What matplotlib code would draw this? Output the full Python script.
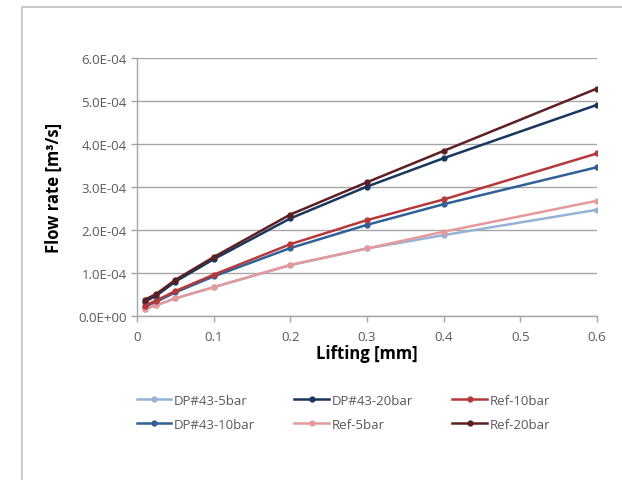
import matplotlib.pyplot as plt
from matplotlib.patches import Rectangle

lifting = [0.01, 0.025, 0.05, 0.1, 0.2, 0.3, 0.4, 0.6]

dp43_5bar = [0.16e-4, 0.25e-4, 0.41e-4, 0.67e-4, 1.18e-4, 1.57e-4, 1.88e-4, 2.47e-4]
dp43_10bar = [0.22e-4, 0.33e-4, 0.55e-4, 0.92e-4, 1.58e-4, 2.12e-4, 2.60e-4, 3.46e-4]
dp43_20bar = [0.33e-4, 0.47e-4, 0.80e-4, 1.32e-4, 2.27e-4, 3.01e-4, 3.67e-4, 4.91e-4]
ref_5bar = [0.16e-4, 0.25e-4, 0.41e-4, 0.67e-4, 1.19e-4, 1.57e-4, 1.96e-4, 2.68e-4]
ref_10bar = [0.24e-4, 0.36e-4, 0.58e-4, 0.96e-4, 1.67e-4, 2.23e-4, 2.71e-4, 3.78e-4]
ref_20bar = [0.38e-4, 0.51e-4, 0.84e-4, 1.37e-4, 2.36e-4, 3.11e-4, 3.84e-4, 5.29e-4]

series = [
    ("DP#43-5bar", dp43_5bar, "#95B3D7"),
    ("DP#43-10bar", dp43_10bar, "#2F6199"),
    ("DP#43-20bar", dp43_20bar, "#17375E"),
    ("Ref-5bar", ref_5bar, "#E6999A"),
    ("Ref-10bar", ref_10bar, "#B5393A"),
    ("Ref-20bar", ref_20bar, "#5E1F22"),
]

yticks = [0, 1e-4, 2e-4, 3e-4, 4e-4, 5e-4, 6e-4]
ytick_labels = ["0.0E+00", "1.0E-04", "2.0E-04", "3.0E-04", "4.0E-04", "5.0E-04", "6.0E-04"]
xticks = [0, 0.1, 0.2, 0.3, 0.4, 0.5, 0.6]
xtick_labels = ["0", "0.1", "0.2", "0.3", "0.4", "0.5", "0.6"]

plt.rcParams['font.family'] = ['Open Sans', 'DejaVu Sans']

fig = plt.figure(figsize=(6.22, 4.81), dpi=100)
fig.patches.append(Rectangle((22 / 622, -0.1), 1.2, 1 - 8 / 481 + 0.1,
                             transform=fig.transFigure, fill=False,
                             edgecolor="#BFBFBF", linewidth=1.2))
ax = fig.add_axes([137 / 622, 1 - 317 / 481, 460 / 622, 258 / 481])

for name, vals, col in series:
    ax.plot(lifting, vals, color=col, marker="o", markersize=3.5, linewidth=1.8, label=name)

ax.set_xlim(0, 0.6)
ax.set_ylim(0, 6e-4)
ax.set_xticks(xticks)
ax.set_xticklabels(xtick_labels)
ax.set_yticks(yticks)
ax.set_yticklabels(ytick_labels)
ax.grid(axis="y", color="#A6A6A6", linewidth=1.0)
ax.set_axisbelow(True)
for s in ["top", "right"]:
    ax.spines[s].set_visible(False)
for s in ["left", "bottom"]:
    ax.spines[s].set_color("#A6A6A6")
    ax.spines[s].set_linewidth(1.0)
ax.tick_params(colors="#A6A6A6", labelcolor="#595959", labelsize=9.5, length=4, width=1.0)
ax.tick_params(axis="x", pad=6)

ax.set_xlabel("Lifting [mm]", fontsize=12, fontweight="bold", labelpad=1)
ax.set_ylabel("Flow rate [m³/s]", fontsize=12, fontweight="bold", labelpad=11)

fig.legend(loc="upper center", bbox_to_anchor=(0.552, 1 - 383 / 481), ncol=3,
           frameon=False, fontsize=9.5, handlelength=2.6, handletextpad=0.2,
           columnspacing=3.0, labelspacing=0.85, labelcolor="#595959")

fig.savefig("out.png", dpi=100)
